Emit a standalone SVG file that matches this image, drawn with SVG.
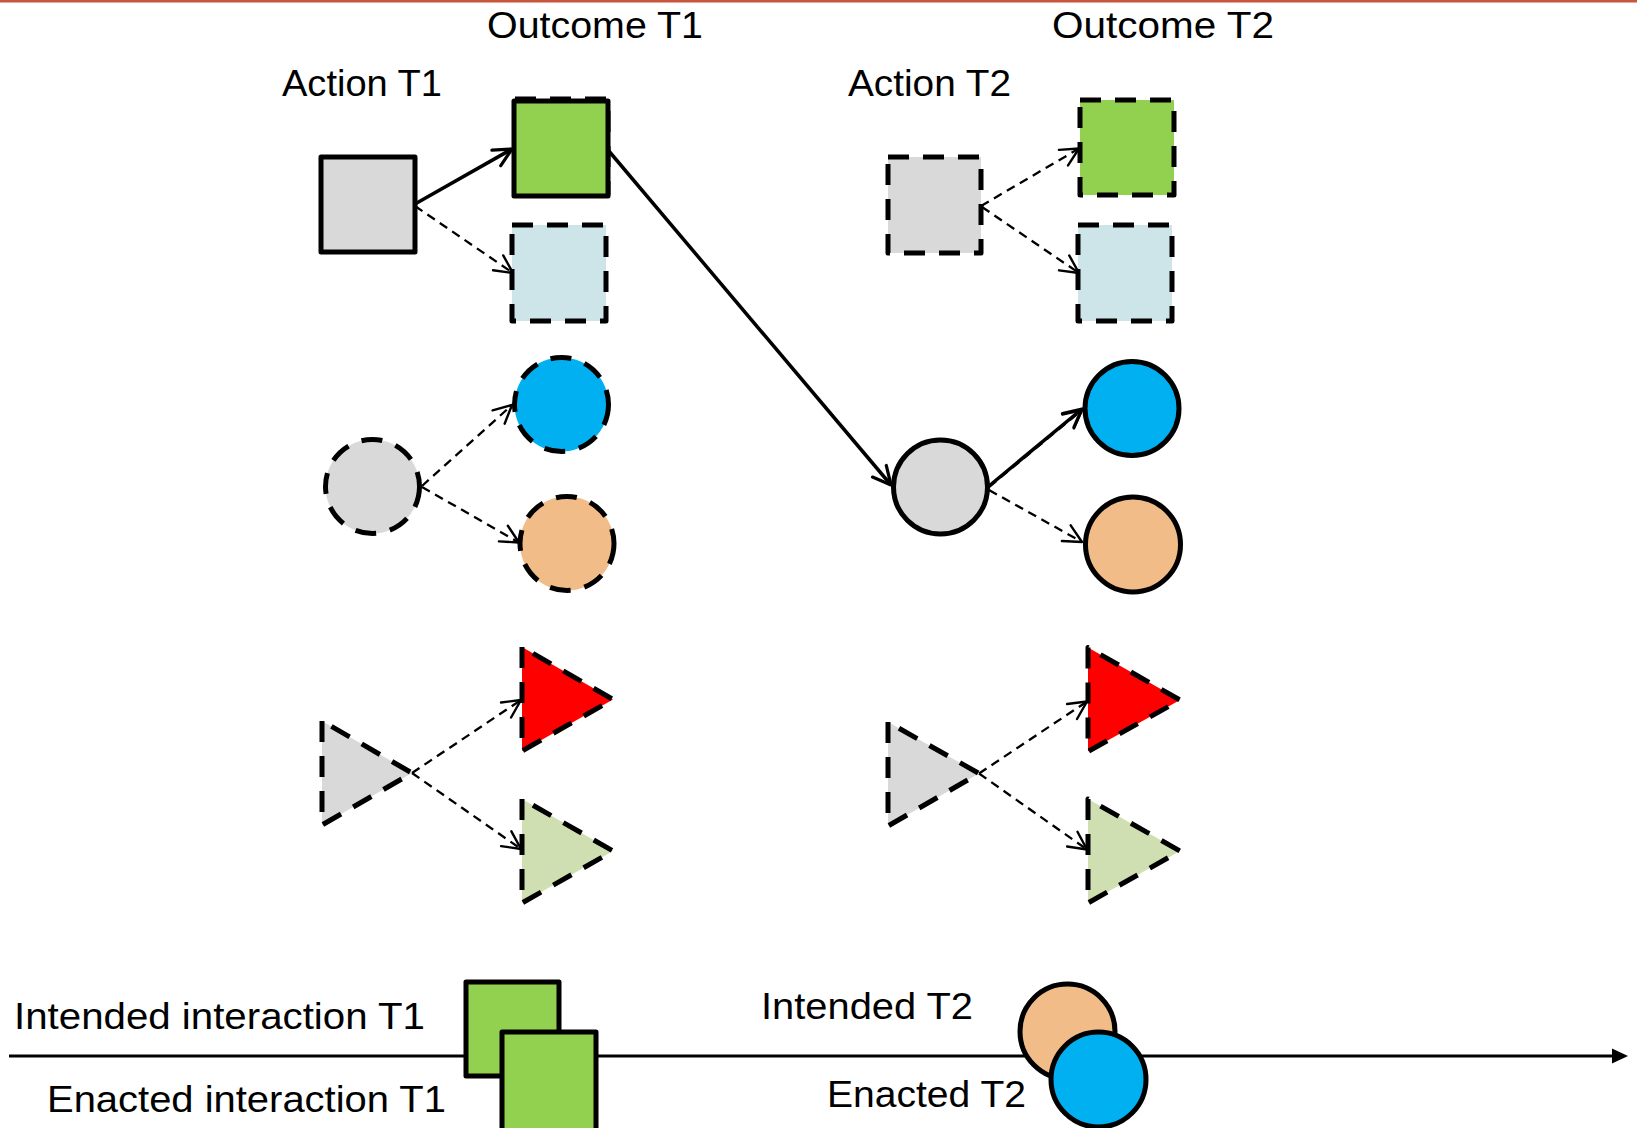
<svg xmlns="http://www.w3.org/2000/svg" width="1637" height="1128" viewBox="0 0 1637 1128">
  <style>
    .lbl { font-family: "Liberation Sans", "DejaVu Sans", sans-serif; font-size: 37px; fill: #000; }
    .solid { stroke: #000; stroke-width: 5; stroke-linejoin: round; }
    .dash { stroke: #000; stroke-width: 5; stroke-dasharray: 21 14; stroke-linejoin: round; }
    .gray { fill: #D9D9D9; }
    .green { fill: #92D050; }
    .ice { fill: #CDE5E8; }
    .blue { fill: #00B0F0; }
    .orange { fill: #F1BC87; }
    .red { fill: #FF0000; }
    .sage { fill: #D0DFB1; }
    .link { fill: none; stroke: #000; stroke-width: 3.5; marker-end: url(#openArrow); }
    .link-d { fill: none; stroke: #000; stroke-width: 2.3; stroke-dasharray: 9 6; marker-end: url(#openArrowThin); }
  </style>
  <defs>
    <marker id="openArrow" markerUnits="userSpaceOnUse" markerWidth="40" markerHeight="40" refX="0" refY="0" viewBox="-22 -20 24 40" orient="auto" overflow="visible">
      <path d="M-18,-9 L0,0 L-18,9" fill="none" stroke="#000" stroke-width="3.2" stroke-linecap="round" stroke-linejoin="round" stroke-dasharray="none"/>
    </marker>
    <marker id="openArrowThin" markerUnits="userSpaceOnUse" markerWidth="40" markerHeight="40" refX="0" refY="0" viewBox="-22 -20 24 40" orient="auto" overflow="visible">
      <path d="M-18,-9 L0,0 L-18,9" fill="none" stroke="#000" stroke-width="2.4" stroke-linecap="round" stroke-linejoin="round" stroke-dasharray="none"/>
    </marker>
  </defs>

  <!-- top rule -->
  <rect x="0" y="0" width="1637" height="2.5" fill="#C8553D"/>

  <!-- column headings -->
  <text class="lbl" x="487" y="38" textLength="216" lengthAdjust="spacingAndGlyphs">Outcome T1</text>
  <text class="lbl" x="1052" y="38" textLength="222" lengthAdjust="spacingAndGlyphs">Outcome T2</text>
  <text class="lbl" x="282" y="96" textLength="160" lengthAdjust="spacingAndGlyphs">Action T1</text>
  <text class="lbl" x="848" y="96" textLength="163" lengthAdjust="spacingAndGlyphs">Action T2</text>

  <!-- connectors -->
  <g id="connectors">
    <line class="link" x1="415" y1="204" x2="512" y2="149"/>
    <line class="link-d" x1="415" y1="206" x2="513" y2="273"/>
    <line class="link" x1="608" y1="150" x2="891" y2="485"/>
    <line class="link-d" x1="422" y1="486" x2="512" y2="405"/>
    <line class="link-d" x1="422" y1="487" x2="519" y2="542.5"/>
    <line class="link-d" x1="412" y1="773" x2="521" y2="700"/>
    <line class="link-d" x1="412" y1="773" x2="521" y2="849"/>
    <line class="link-d" x1="981" y1="206" x2="1079" y2="148.5"/>
    <line class="link-d" x1="982" y1="207" x2="1079" y2="273"/>
    <line class="link-d" x1="989" y1="487" x2="1082" y2="410"/>
    <line class="link" x1="989" y1="486" x2="1082" y2="409"/>
    <line class="link-d" x1="989" y1="490" x2="1082" y2="542"/>
    <line class="link-d" x1="979" y1="773.5" x2="1087" y2="701.5"/>
    <line class="link-d" x1="979" y1="773.5" x2="1087" y2="849.5"/>
    <!-- timeline -->
    <line x1="9" y1="1056" x2="1614" y2="1056" stroke="#000" stroke-width="3"/>
    <polygon points="1628,1056 1612,1048.5 1612,1063.5" fill="#000"/>
  </g>

  <!-- time T1 -->
  <g id="action-t1-square"><rect class="gray solid" x="321" y="157" width="94" height="95"/></g>
  <g id="outcome-t1-green">
    <rect class="green dash" x="515" y="99" width="93" height="95"/>
    <rect class="green solid" x="514" y="101" width="94" height="95"/>
  </g>
  <g id="outcome-t1-ice"><rect class="ice dash" x="512" y="225" width="94" height="96"/></g>
  <g id="action-t1-circle"><circle class="gray dash" cx="372.5" cy="486.5" r="47"/></g>
  <g id="outcome-t1-blue"><circle class="blue dash" cx="561.5" cy="404.5" r="47"/></g>
  <g id="outcome-t1-orange"><circle class="orange dash" cx="567" cy="543.5" r="47"/></g>
  <g id="action-t1-triangle"><polygon class="gray dash" points="322,721 322,825 412,773"/></g>
  <g id="outcome-t1-red"><polygon class="red dash" points="522,647 522,751 613,699.5"/></g>
  <g id="outcome-t1-sage"><polygon class="sage dash" points="522,799 522,903 613,851"/></g>

  <!-- time T2 -->
  <g id="action-t2-square"><rect class="gray dash" x="888" y="157" width="93" height="96"/></g>
  <g id="outcome-t2-green"><rect class="green dash" x="1080" y="100" width="94" height="95"/></g>
  <g id="outcome-t2-ice"><rect class="ice dash" x="1078" y="225" width="94" height="96"/></g>
  <g id="action-t2-circle"><circle class="gray solid" cx="940.5" cy="487" r="47"/></g>
  <g id="outcome-t2-blue"><circle class="blue solid" cx="1132" cy="408.5" r="47"/></g>
  <g id="outcome-t2-orange"><circle class="orange solid" cx="1133" cy="544.5" r="47.5"/></g>
  <g id="action-t2-triangle"><polygon class="gray dash" points="888,722 888,826 979,773.5"/></g>
  <g id="outcome-t2-red"><polygon class="red dash" points="1088,647.5 1088,751.5 1180,700"/></g>
  <g id="outcome-t2-sage"><polygon class="sage dash" points="1088,799 1088,903 1180,851"/></g>

  <!-- interaction timeline -->
  <g id="intended-t1"><rect class="green solid" x="466" y="982" width="93" height="94"/></g>
  <g id="enacted-t1"><rect class="green solid" x="502" y="1032" width="94" height="100"/></g>
  <g id="intended-t2"><circle class="orange solid" cx="1067.5" cy="1031.5" r="47.5"/></g>
  <g id="enacted-t2"><circle class="blue solid" cx="1098.5" cy="1079.5" r="47.5"/></g>

  <text class="lbl" x="14" y="1029" textLength="411" lengthAdjust="spacingAndGlyphs">Intended interaction T1</text>
  <text class="lbl" x="47" y="1112" textLength="399" lengthAdjust="spacingAndGlyphs">Enacted interaction T1</text>
  <text class="lbl" x="761" y="1019" textLength="212" lengthAdjust="spacingAndGlyphs">Intended T2</text>
  <text class="lbl" x="827" y="1107" textLength="199" lengthAdjust="spacingAndGlyphs">Enacted T2</text>
</svg>
